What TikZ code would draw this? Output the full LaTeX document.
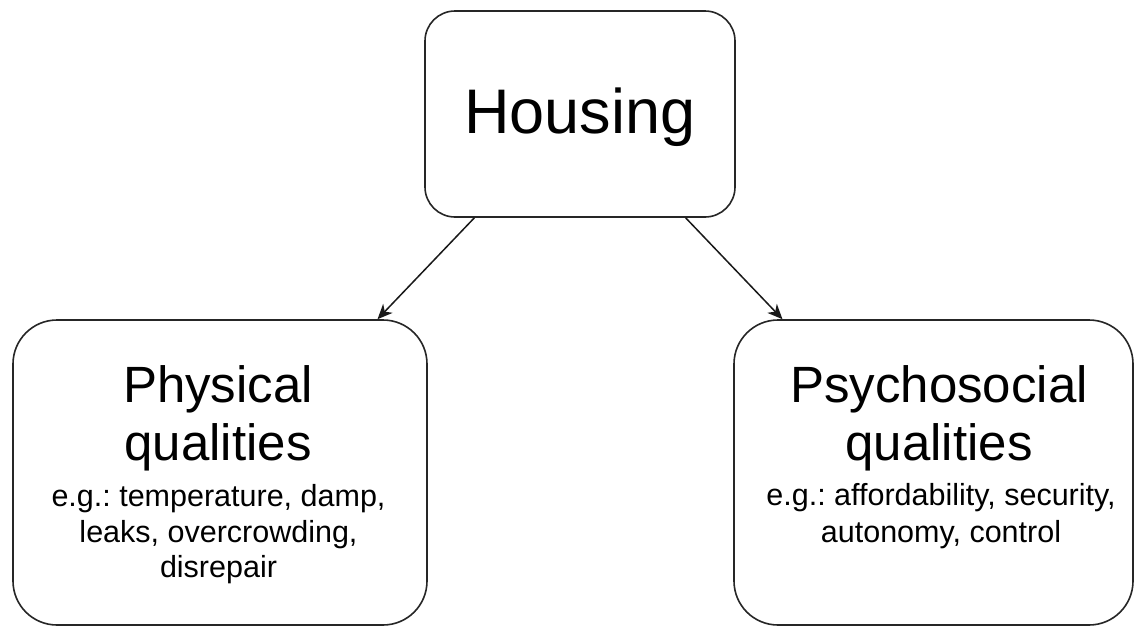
\documentclass[tikz,border=0pt]{standalone}
\usepackage{fontspec}
\setmainfont{Liberation Sans}
\usetikzlibrary{arrows.meta,calc}
\tikzset{
  box/.style={draw=black!85, line width=1.6pt, rectangle, inner sep=0pt, fill=white},
  bigtxt/.style={anchor=base, align=center, inner sep=0pt, font=\frenchspacing\fontsize{51}{58}\selectfont},
  smalltxt/.style={anchor=base, align=center, inner sep=0pt, font=\frenchspacing\fontsize{30.5}{35.5}\selectfont},
  conn/.style={draw=black!90, line width=1.5pt, -{Stealth[length=15pt,width=13pt,inset=4.5pt]}}
}
\begin{document}
\begin{tikzpicture}[x=1pt,y=-1pt]
\useasboundingbox[fill=white] (0,0) rectangle (1135,627);
\node[box, rounded corners=30pt, minimum width=310pt, minimum height=206pt] (H) at (580,114) {};
\node[anchor=base, inner sep=0pt, font=\fontsize{63}{70}\selectfont] (Ht) at (580,133) {Housing};
\node[box, rounded corners=44pt, minimum width=414pt, minimum height=305pt] (L) at (220,472.5) {};
\node[box, rounded corners=44pt, minimum width=399pt, minimum height=305pt] (R) at (933.5,472.5) {};
\node[bigtxt] (Lt) at (218,460) {Physical\\qualities};
\node[smalltxt] (Ld) at (218.5,577.5) {e.g.: temperature, damp,\\leaks, overcrowding,\\disrepair};
\node[bigtxt] (Rt) at (939,460) {Psychosocial\\qualities};
\node[smalltxt, font=\frenchspacing\fontsize{30.5}{36.5}\selectfont] (Rd) at (941,542) {e.g.: affordability, security,\\autonomy, control};
\draw[conn] ($(H.south west)!0.161!(H.south east)$) -- ($(L.north west)!0.879!(L.north east)$);
\draw[conn] ($(H.south west)!0.839!(H.south east)$) -- ($(R.north west)!0.123!(R.north east)$);
\end{tikzpicture}
\end{document}
